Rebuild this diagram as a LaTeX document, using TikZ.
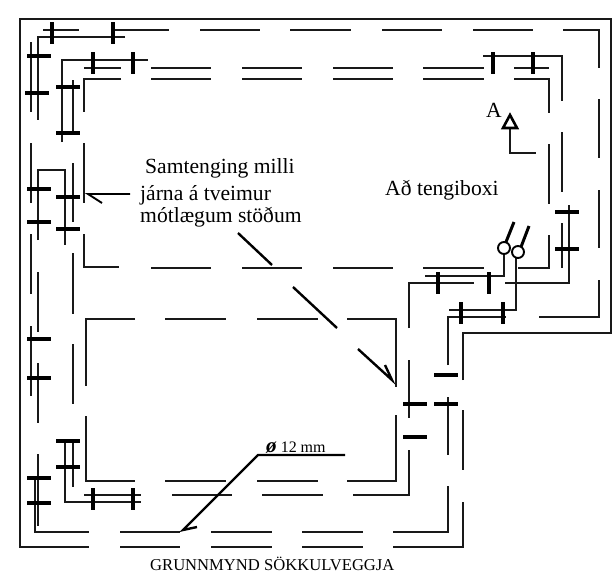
\documentclass[tikz,border=0pt]{standalone}
\usepackage{fontspec}
\setmainfont{Liberation Serif}
\usetikzlibrary{positioning}

\begin{document}
\begin{tikzpicture}[x=1pt,y=-1pt]

\tikzset{bar/.style={line width=1.9pt,black!90},
         tick/.style={line width=3.2pt,black},
         wire/.style={line width=2.4pt,black},
         label/.style={inner sep=0pt,anchor=base west,font=\fontsize{21.6}{22}\selectfont}}

\useasboundingbox (0,0) rectangle (612,574);

% outer wall line
\draw[bar] (463,380) -- (463,333) -- (611,333) -- (611,19) -- (20,19) -- (20,547) -- (89,547);
\draw[bar] (463,410) -- (463,470);
\draw[bar] (393,547) -- (463,547) -- (463,502);
\foreach \a/\b in {120/180,211/272,302/363}
    \draw[bar] (\a,547) -- (\b,547);

% second line, top and right
\foreach \a/\b in {113/169,200/260,290/351,382/442,473/533}
    \draw[bar] (\a,30) -- (\b,30);
\draw[bar] (43,30) -- (79,30);
\draw[bar] (563,30) -- (599,30) -- (599,68);
\draw[bar] (599,99) -- (599,158);
\draw[bar] (599,190) -- (599,248);
\draw[bar] (599,280) -- (599,317) -- (539,317);

% second line, left and bottom
\draw[bar] (125,37) -- (38,37) -- (38,120);
\draw[bar] (38,240) -- (38,170) -- (65,170) -- (65,245);
\foreach \a/\b in {42/112,143/203,234/294,326/396}
    \draw[bar] (31,\a) -- (31,\b);
\foreach \a/\b in {272/332,363/423,454/526}
    \draw[bar] (38,\a) -- (38,\b);
\draw[bar] (35,477) -- (35,532) -- (89,532);
\foreach \a/\b in {120/180,211/272,302/363}
    \draw[bar] (\a,532) -- (\b,532);
\draw[bar] (393,532) -- (448,532) -- (448,486);
\draw[bar] (448,397) -- (448,455);
\draw[bar] (448,365) -- (448,317) -- (506,317);
\draw[bar] (449,310) -- (516,310) -- (516,253);

% third line
\draw[bar] (62,142) -- (62,60) -- (148,60);
\foreach \a/\b in {151/211,242/302,333/393,423/484}
    \draw[bar] (\a,68) -- (\b,68);
\draw[bar] (84,68) -- (121,68);
\draw[bar] (514,68) -- (549,68);
\foreach \a/\b in {80/133,163/222,253/314,344/404}
    \draw[bar] (73,\a) -- (73,\b);
\draw[bar] (65,439) -- (65,502) -- (141,502);
\draw[bar] (73,439) -- (73,487);
\draw[bar] (84,495) -- (141,495);
\foreach \a/\b in {172/232,262/323}
    \draw[bar] (\a,495) -- (\b,495);
\draw[bar] (353,495) -- (409,495) -- (409,450);
\draw[bar] (409,360) -- (409,418);
\draw[bar] (409,328) -- (409,283) -- (474,283);
\draw[bar] (425,276) -- (504,276) -- (504,248);
\draw[bar] (483,56) -- (562,56) -- (562,101);
\foreach \a/\b in {132/192,223/268}
    \draw[bar] (562,\a) -- (562,\b);
\draw[bar] (505,283) -- (569,283) -- (569,205);

% inner line, upper room
\draw[bar] (121,79) -- (84,79) -- (84,112);
\foreach \a/\b in {151/211,242/302,333/393,423/484}
    \draw[bar] (\a,79) -- (\b,79);
\draw[bar] (514,79) -- (549,79) -- (549,113);
\draw[bar] (549,144) -- (549,204);
\draw[bar] (549,235) -- (549,268) -- (518,268);
\draw[bar] (84,143) -- (84,203);
\draw[bar] (84,234) -- (84,267) -- (119,267);
\foreach \a/\b in {151/211,242/302,333/393,423/484}
    \draw[bar] (\a,268) -- (\b,268);

% inner line, lower room
\draw[bar] (135,319) -- (86,319) -- (86,386);
\draw[bar] (86,416) -- (86,481) -- (135,481);
\foreach \a/\b in {165/226,257/318}
    \draw[bar] (\a,319) -- (\b,319) (\a,481) -- (\b,481);
\draw[bar] (347,319) -- (396,319) -- (396,387);
\draw[bar] (396,415) -- (396,481) -- (347,481);

% ties across the bars
\foreach \x/\y in {52/33,113/33,93/63,133/63,493/63,533/63,438/283,489/283,461/313,503/313,93/499,133/499}
    \draw[tick] (\x,\y-11) -- (\x,\y+11);
\foreach \x/\y in {39/56,37/93,68/87,68/133,39/189,68/197,39/222,68/229,39/339,39/378,68/441,68/467,39/478,39/503,567/212,567/249,446/375,446/404,415/404,415/437}
    \draw[tick] (\x-12,\y) -- (\x+12,\y);

% feed to the box
\draw[wire,line width=3pt] (506,242) -- (514,222);
\draw[wire,line width=3pt] (521,247) -- (529,226);
\draw[line width=1.9pt,fill=white] (504,248) circle (6);
\draw[line width=1.9pt,fill=white] (518,252) circle (6);

% section mark
\draw[bar] (510,128) -- (510,153) -- (536,153);
\draw[line width=2.6pt,fill=white,line join=miter] (510,115) -- (517,128) -- (503,128) -- cycle;

% leaders
\draw[wire,line width=1.9pt] (130,194) -- (88,194) -- (102,203);
\draw[wire] (238,233) -- (272,265);
\draw[wire] (293,287) -- (337,328);
\draw[wire] (358,349) -- (392,380) -- (385,365);
\draw[wire] (345,455) -- (258,455) -- (183,530) -- (197,527);

% labels
\node[label] (samtenging) at (145,173) {Samtenging milli};
\node[label] (jarna) at (140,200) {járna á tveimur};
\node[label] (motlaegum) at (140,222) {mótlægum stöðum};
\node[label] (tengiboxi) at (385,195) {Að tengiboxi};
\node[label] (sectionA) at (486,117) {A};
\node[label,font=\fontsize{16}{16}\selectfont] (dia) at (266,452) {{\fontsize{21}{21}\selectfont\textbf{\textit{ø}}} 12 mm};
\node[label,font=\fontsize{16.6}{17}\selectfont] (title) at (150,570) {GRUNNMYND SÖKKULVEGGJA};

\end{tikzpicture}
\end{document}
